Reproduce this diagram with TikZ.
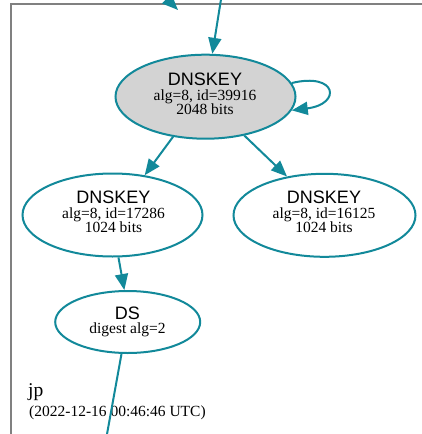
\documentclass[tikz,border=0pt]{standalone}
\usepackage{fontspec}
\setmainfont{Liberation Serif}
\newfontfamily\hsans{Liberation Sans}
\usetikzlibrary{arrows.meta,shapes.geometric}
\definecolor{dvteal}{RGB}{18,137,154}
\definecolor{dvgray}{RGB}{211,211,211}
\definecolor{clgray}{RGB}{128,128,128}
\begin{document}
\begin{tikzpicture}[x=1pt,y=-1pt,
  keynode/.style={ellipse, draw=dvteal, line width=2pt, fill=white, inner sep=0pt},
  edge/.style={draw=dvteal, line width=2pt, -{Triangle[length=16pt,width=13pt]}},
  plainedge/.style={draw=dvteal, line width=2pt},
  title/.style={font=\hsans\fontsize{18}{18}\selectfont, anchor=base, inner sep=0pt},
  sub/.style={font=\fontsize{15.5}{16}\selectfont, anchor=base, inner sep=0pt},
  lbl/.style={anchor=base west, inner sep=0pt}]
\useasboundingbox (0,0) rectangle (421,434);
\draw[clgray, line width=1.4pt] (10.8,440) -- (10.8,3.8) -- (430,3.8);

\node[keynode, fill=dvgray, minimum width=180pt, minimum height=84pt] (k1) at (205.5,96.7) {};
\node[keynode, minimum width=180pt, minimum height=83pt] (k2) at (112.5,215) {};
\node[keynode, minimum width=182pt, minimum height=83pt] (k3) at (324.5,215.3) {};
\node[keynode, minimum width=145pt, minimum height=62pt] (ds) at (127.7,322) {};

\node[title] (k1a) at (205,85) {DNSKEY};
\node[sub] (k1b) at (205,100.5) {alg=8, id=39916};
\node[sub] (k1c) at (205,114.5) {2048 bits};

\node[title] (k2a) at (113.5,203.5) {DNSKEY};
\node[sub] (k2b) at (113.5,218.8) {alg=8, id=17286};
\node[sub] (k2c) at (113.5,232.8) {1024 bits};

\node[title] (k3a) at (324,203.5) {DNSKEY};
\node[sub] (k3b) at (324,218.8) {alg=8, id=16125};
\node[sub] (k3c) at (324,232.8) {1024 bits};

\node[title] (dsa) at (127.5,319) {DS};
\node[sub] (dsb) at (127.5,333.5) {digest alg=2};

\node[lbl, font=\fontsize{19.5}{20}\selectfont] (zone) at (28,396) {jp};
\node[lbl, font=\fontsize{15.5}{16}\selectfont] (stamp) at (29,416.7) {(2022-12-16 00:46:46 UTC)};

\coordinate (in0) at (222.5,-10);
\coordinate (tl0) at (130,-38);
\coordinate (tl1) at (178,10);
\coordinate (out1) at (106.3,438);

\draw[edge] (in0) -- (k1.81.9);
\draw[edge] (tl0) -- (tl1);
\draw[edge] (k1.9) .. controls (337,72) and (342,104) .. (k1.351.5);
\draw[edge] (k1.231) -- (k2.51);
\draw[edge] (k1.315.8) -- (k3.134.4);
\draw[edge] (k2.278.8) -- (ds.96.6);
\draw[plainedge] (ds.259.7) -- (out1);
\end{tikzpicture}
\end{document}
